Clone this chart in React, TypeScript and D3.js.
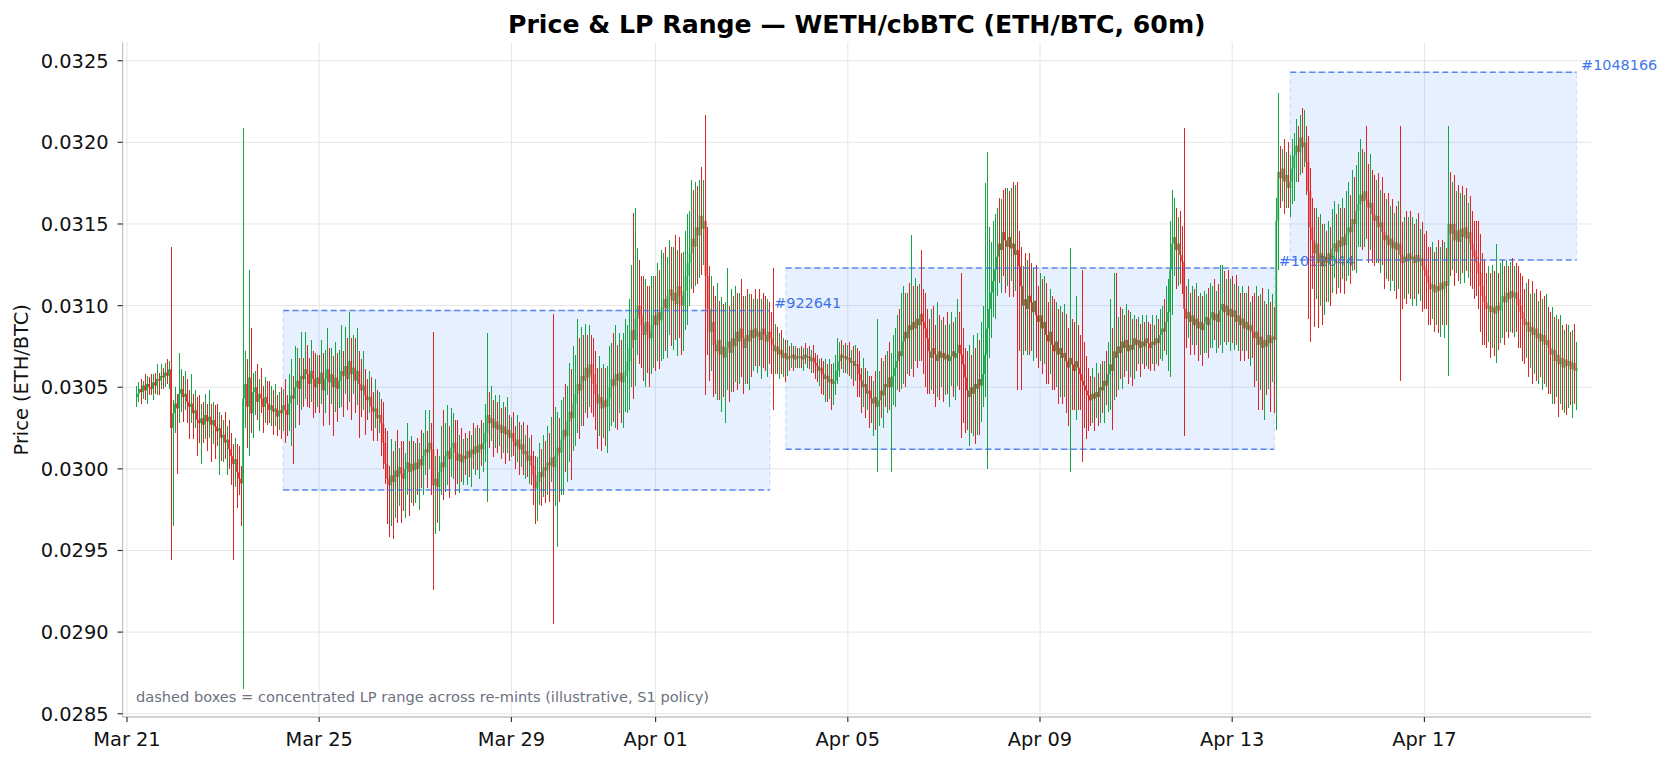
import React, { useMemo } from 'react';
import * as d3 from 'd3';

const chartTitle = 'Price & LP Range — WETH/cbBTC (ETH/BTC, 60m)';
const yAxisLabel = 'Price (ETH/BTC)';
const footNote = 'dashed boxes = concentrated LP range across re-mints (illustrative, S1 policy)';

// hourly candles, prices in units of 1e-5 ETH/BTC, one row per day
const firstCandle = '2025-03-21T05:00:00Z';
const firstOpen = 3044;
const closesByDay = [
  [3046, 3049, 3047, 3051, 3048, 3052, 3050, 3049, 3053, 3051, 3055, 3054, 3057, 3056, 3059, 3057, 3061, 3025, 3034],
  [3040, 3037, 3046, 3049, 3044, 3046, 3041, 3038, 3040, 3034, 3036, 3030, 3028, 3031, 3027, 3033, 3029, 3032, 3027, 3030, 3026, 3023, 3025, 3019],
  [3021, 3016, 3018, 3012, 3008, 3003, 3006, 2998, 2994, 2991, 3043, 3052, 3038, 3056, 3034, 3047, 3050, 3041, 3046, 3043, 3038, 3044, 3040, 3036],
  [3039, 3035, 3037, 3032, 3036, 3034, 3039, 3036, 3033, 3040, 3045, 3043, 3050, 3054, 3049, 3057, 3055, 3061, 3058, 3052, 3060, 3055, 3050, 3056],
  [3052, 3059, 3048, 3055, 3061, 3053, 3058, 3050, 3056, 3049, 3054, 3060, 3057, 3063, 3055, 3066, 3058, 3062, 3054, 3060, 3052, 3048, 3051, 3045],
  [3042, 3044, 3038, 3035, 3037, 3031, 3033, 3028, 3016, 3003, 2994, 2990, 2996, 2992, 2999, 2995, 3001, 2997, 2994, 3000, 3004, 2998, 3003, 2999],
  [3004, 3000, 3006, 3002, 3008, 3012, 3010, 3016, 3012, 2990, 2994, 2989, 2998, 3004, 3001, 3008, 3011, 3006, 3013, 3016, 3010, 3005, 3009, 3004],
  [3008, 3006, 3011, 3007, 3012, 3009, 3014, 3010, 3015, 3012, 3016, 3022, 3033, 3028, 3031, 3025, 3029, 3024, 3027, 3022, 3026, 3021, 3024, 3019],
  [3022, 3017, 3014, 3018, 3012, 3015, 3009, 3011, 3005, 3008, 3002, 2996, 2988, 2992, 2998, 2995, 3001, 2999, 3004, 3002, 3007, 3001, 3008, 3013],
  [3010, 3018, 3024, 3020, 3029, 3035, 3031, 3040, 3046, 3052, 3048, 3057, 3054, 3062, 3056, 3064, 3058, 3052, 3046, 3040, 3044, 3037, 3042, 3038],
  [3043, 3050, 3055, 3051, 3058, 3054, 3059, 3053, 3057, 3060, 3066, 3074, 3085, 3079, 3092, 3100, 3094, 3088, 3082, 3090, 3084, 3080, 3088, 3094],
  [3088, 3096, 3091, 3099, 3104, 3098, 3106, 3110, 3103, 3108, 3101, 3112, 3106, 3100, 3109, 3118, 3126, 3132, 3141, 3136, 3148, 3143, 3155, 3147],
  [3152, 3118, 3098, 3084, 3090, 3076, 3072, 3079, 3070, 3075, 3068, 3074, 3078, 3071, 3080, 3075, 3084, 3078, 3086, 3080, 3074, 3082, 3078, 3085],
  [3080, 3086, 3081, 3084, 3079, 3086, 3082, 3078, 3084, 3080, 3076, 3072, 3075, 3070, 3073, 3068, 3071, 3067, 3069, 3068, 3070, 3067, 3069, 3068],
  [3069, 3067, 3070, 3068, 3069, 3066, 3068, 3065, 3063, 3060, 3062, 3058, 3055, 3057, 3053, 3055, 3052, 3054, 3060, 3066, 3070, 3068, 3069, 3067],
  [3068, 3065, 3066, 3063, 3064, 3058, 3054, 3050, 3052, 3046, 3048, 3043, 3040, 3044, 3038, 3042, 3048, 3045, 3052, 3050, 3056, 3050, 3057, 3062],
  [3066, 3072, 3069, 3078, 3084, 3080, 3088, 3085, 3090, 3086, 3092, 3088, 3095, 3090, 3086, 3080, 3072, 3068, 3074, 3070, 3066, 3072, 3068, 3071],
  [3067, 3070, 3066, 3069, 3072, 3068, 3071, 3076, 3070, 3064, 3056, 3048, 3044, 3050, 3046, 3052, 3049, 3055, 3051, 3058, 3070, 3086, 3098, 3108],
  [3115, 3122, 3130, 3138, 3134, 3145, 3140, 3136, 3142, 3135, 3138, 3131, 3134, 3124, 3112, 3100, 3104, 3098, 3106, 3102, 3096, 3103, 3094, 3090],
  [3094, 3086, 3090, 3082, 3078, 3084, 3076, 3072, 3078, 3070, 3074, 3068, 3071, 3066, 3062, 3068, 3064, 3060, 3066, 3062, 3058, 3054, 3051, 3048],
  [3045, 3042, 3046, 3043, 3047, 3044, 3050, 3048, 3054, 3051, 3058, 3064, 3060, 3072, 3068, 3075, 3071, 3078, 3074, 3079, 3072, 3076, 3073, 3080],
  [3076, 3079, 3074, 3078, 3075, 3080, 3077, 3074, 3078, 3076, 3080, 3077, 3082, 3086, 3084, 3090, 3096, 3122, 3138, 3142, 3134, 3138, 3131, 3127],
  [3098, 3092, 3096, 3090, 3094, 3088, 3092, 3086, 3090, 3085, 3089, 3093, 3088, 3092, 3096, 3091, 3095, 3090, 3097, 3101, 3096, 3100, 3094, 3098],
  [3093, 3097, 3090, 3094, 3088, 3092, 3086, 3090, 3085, 3088, 3084, 3080, 3084, 3076, 3081, 3074, 3079, 3075, 3082, 3077, 3081, 3079, 3152, 3182],
  [3178, 3184, 3176, 3180, 3172, 3176, 3184, 3192, 3198, 3194, 3203, 3197, 3200, 3188, 3170, 3148, 3140, 3132, 3138, 3126, 3132, 3124, 3130, 3126],
  [3132, 3128, 3135, 3138, 3133, 3140, 3136, 3142, 3137, 3144, 3148, 3145, 3153, 3150, 3158, 3162, 3168, 3164, 3170, 3165, 3160, 3163, 3156, 3152],
  [3155, 3148, 3151, 3145, 3140, 3143, 3137, 3141, 3135, 3139, 3134, 3138, 3131, 3126, 3130, 3127, 3132, 3128, 3130, 3126, 3131, 3127, 3129, 3124],
  [3122, 3118, 3114, 3110, 3113, 3108, 3112, 3109, 3114, 3110, 3115, 3112, 3150, 3144, 3150, 3140, 3146, 3139, 3147, 3142, 3148, 3141, 3145, 3138],
  [3134, 3130, 3126, 3120, 3112, 3106, 3102, 3098, 3100, 3096, 3099, 3095, 3100, 3097, 3102, 3106, 3102, 3108, 3104, 3109, 3105, 3108, 3104, 3100],
  [3096, 3092, 3088, 3090, 3084, 3087, 3082, 3086, 3080, 3083, 3078, 3082, 3076, 3079, 3074, 3070, 3073, 3066, 3070, 3064, 3068, 3062, 3067, 3063],
  [3066, 3061, 3065, 3060, 3062],
];

// wick length above the body top / below the body bottom (same units)
const wickUpByDay = [
  [5, 4, 6, 3, 7, 5, 4, 8, 5, 6, 9, 4, 7, 5, 6, 8, 5, 75, 8],
  [10, 6, 25, 12, 8, 14, 9, 7, 18, 6, 12, 8, 15, 9, 10, 13, 7, 16, 8, 11, 9, 14, 10, 8],
  [9, 14, 8, 12, 10, 7, 13, 9, 16, 8, 166, 20, 15, 66, 30, 12, 10, 14, 9, 16, 8, 12, 10, 14],
  [12, 9, 15, 8, 11, 14, 10, 16, 9, 18, 22, 12, 25, 20, 14, 27, 11, 23, 15, 10, 19, 12, 16, 14],
  [14, 20, 12, 18, 25, 13, 16, 11, 22, 15, 19, 28, 12, 24, 17, 30, 14, 20, 18, 26, 12, 15, 21, 10],
  [10, 16, 12, 9, 18, 11, 14, 10, 13, 9, 20, 8, 22, 15, 18, 25, 12, 16, 20, 10, 24, 13, 17, 14],
  [12, 15, 10, 18, 14, 24, 11, 20, 12, 72, 14, 18, 10, 22, 32, 20, 28, 15, 24, 18, 14, 20, 12, 16],
  [10, 14, 8, 12, 9, 16, 11, 13, 10, 15, 12, 18, 50, 14, 20, 11, 16, 12, 18, 10, 15, 12, 20, 9],
  [10, 13, 9, 15, 11, 12, 14, 10, 16, 11, 13, 9, 12, 15, 18, 14, 20, 16, 22, 18, 25, 88, 30, 22],
  [18, 24, 20, 28, 22, 30, 26, 35, 24, 40, 28, 30, 25, 27, 20, 24, 18, 22, 20, 16, 25, 18, 22, 20],
  [20, 25, 22, 28, 30, 18, 24, 20, 26, 32, 22, 30, 40, 72, 68, 35, 28, 24, 30, 26, 22, 28, 30, 24],
  [24, 30, 26, 35, 28, 32, 24, 30, 26, 28, 35, 22, 30, 26, 24, 28, 30, 26, 36, 30, 28, 25, 22, 30],
  [25, 65, 30, 26, 28, 22, 30, 35, 24, 30, 26, 28, 45, 22, 30, 26, 28, 24, 22, 30, 26, 24, 28, 22],
  [22, 18, 24, 20, 26, 18, 22, 24, 20, 18, 16, 47, 14, 12, 10, 12, 9, 8, 10, 6, 7, 5, 6, 5],
  [5, 6, 4, 7, 5, 6, 5, 8, 6, 7, 5, 6, 8, 10, 7, 12, 9, 11, 10, 14, 8, 9, 7, 8],
  [8, 10, 7, 9, 12, 10, 14, 8, 16, 10, 12, 9, 14, 10, 16, 50, 12, 20, 14, 18, 16, 22, 14, 20],
  [20, 22, 26, 30, 28, 24, 20, 26, 53, 22, 25, 20, 18, 39, 20, 22, 18, 20, 24, 26, 18, 30, 22, 20],
  [22, 18, 26, 20, 24, 18, 22, 28, 20, 50, 22, 18, 24, 26, 20, 30, 22, 28, 24, 32, 30, 89, 96, 40],
  [24, 30, 26, 22, 28, 20, 26, 32, 30, 28, 34, 38, 40, 42, 22, 24, 20, 28, 22, 26, 24, 20, 22, 18],
  [26, 22, 28, 24, 20, 26, 22, 28, 24, 20, 26, 22, 30, 24, 20, 67, 24, 26, 40, 22, 20, 64, 24, 18],
  [14, 12, 16, 10, 18, 12, 14, 16, 12, 18, 20, 40, 22, 48, 48, 18, 24, 20, 16, 22, 18, 20, 16, 14],
  [12, 14, 10, 16, 12, 14, 10, 12, 16, 10, 14, 12, 16, 14, 18, 22, 20, 30, 33, 24, 18, 16, 20, 18],
  [82, 14, 20, 12, 18, 16, 22, 14, 18, 16, 20, 14, 18, 22, 16, 20, 14, 18, 28, 24, 20, 16, 22, 18],
  [20, 16, 22, 18, 14, 20, 16, 18, 22, 14, 18, 24, 28, 22, 26, 30, 24, 22, 28, 20, 26, 18, 14, 48],
  [16, 12, 18, 14, 20, 16, 18, 14, 16, 12, 14, 18, 20, 10, 16, 14, 18, 20, 22, 16, 24, 18, 20, 16],
  [20, 16, 24, 26, 18, 22, 20, 24, 18, 26, 28, 20, 30, 26, 28, 32, 34, 28, 24, 40, 22, 30, 20, 24],
  [22, 26, 20, 28, 24, 22, 26, 20, 24, 18, 22, 26, 72, 20, 24, 28, 22, 26, 24, 20, 22, 26, 18, 22],
  [20, 24, 18, 22, 26, 20, 24, 28, 22, 26, 24, 20, 60, 32, 26, 30, 24, 28, 22, 26, 20, 24, 18, 22],
  [20, 18, 22, 26, 24, 20, 22, 18, 24, 20, 26, 22, 38, 20, 24, 22, 18, 20, 16, 18, 20, 16, 18, 20],
  [20, 22, 18, 24, 26, 20, 28, 22, 24, 20, 26, 22, 24, 28, 20, 22, 26, 20, 24, 22, 26, 20, 18, 22],
  [22, 18, 20, 24, 16],
];

const wickDownByDay = [
  [6, 5, 7, 4, 6, 8, 5, 4, 7, 5, 6, 9, 5, 7, 6, 5, 8, 81, 60],
  [12, 40, 9, 11, 15, 8, 13, 20, 10, 16, 9, 22, 12, 25, 11, 9, 18, 10, 23, 12, 20, 9, 27, 14],
  [15, 10, 20, 12, 18, 59, 14, 22, 10, 26, 126, 18, 25, 30, 12, 15, 14, 11, 18, 9, 16, 10, 13, 8],
  [10, 14, 9, 12, 8, 16, 11, 20, 13, 10, 26, 40, 18, 11, 22, 13, 17, 12, 20, 15, 11, 24, 16, 12],
  [18, 12, 22, 14, 10, 26, 13, 30, 15, 20, 12, 16, 25, 11, 19, 14, 28, 12, 20, 15, 33, 16, 12, 24],
  [12, 8, 15, 18, 10, 14, 9, 20, 16, 12, 28, 32, 25, 35, 22, 28, 18, 30, 20, 24, 16, 27, 19, 22],
  [20, 16, 25, 14, 18, 12, 22, 10, 28, 64, 30, 22, 27, 14, 20, 15, 18, 24, 11, 19, 26, 14, 20, 12],
  [14, 10, 16, 12, 18, 9, 13, 11, 16, 10, 14, 12, 42, 15, 11, 18, 12, 14, 10, 16, 12, 18, 11, 14],
  [12, 9, 14, 10, 16, 11, 13, 15, 10, 14, 12, 18, 22, 20, 14, 18, 12, 20, 15, 22, 10, 96, 24, 56],
  [30, 26, 34, 22, 28, 25, 38, 20, 26, 24, 30, 22, 28, 20, 25, 18, 24, 20, 22, 28, 20, 26, 18, 24],
  [28, 20, 24, 22, 26, 30, 20, 25, 28, 22, 26, 30, 24, 36, 28, 22, 30, 26, 28, 32, 25, 30, 22, 26],
  [28, 22, 30, 25, 32, 26, 30, 24, 28, 30, 22, 32, 26, 30, 28, 24, 30, 26, 22, 28, 24, 30, 26, 28],
  [22, 73, 28, 30, 24, 32, 26, 30, 28, 35, 24, 40, 26, 30, 24, 28, 22, 30, 26, 24, 28, 22, 26, 30],
  [24, 20, 18, 22, 16, 24, 20, 18, 22, 16, 18, 36, 14, 12, 15, 10, 12, 14, 10, 8, 6, 7, 5, 6],
  [6, 5, 7, 4, 6, 5, 7, 6, 8, 7, 9, 12, 10, 14, 12, 10, 16, 13, 9, 8, 10, 7, 9, 8],
  [9, 8, 10, 12, 9, 14, 10, 16, 12, 15, 10, 18, 12, 20, 14, 40, 16, 14, 20, 12, 16, 14, 52, 18],
  [24, 18, 22, 20, 26, 30, 22, 28, 24, 30, 20, 26, 22, 24, 28, 30, 26, 22, 20, 24, 28, 22, 26, 18],
  [26, 22, 20, 28, 18, 24, 26, 20, 22, 45, 28, 26, 20, 30, 24, 26, 34, 28, 30, 22, 20, 26, 86, 30],
  [28, 22, 30, 24, 20, 26, 22, 28, 24, 30, 20, 26, 22, 76, 40, 52, 30, 26, 28, 32, 24, 30, 26, 28],
  [24, 28, 22, 30, 26, 20, 28, 24, 22, 30, 26, 28, 24, 32, 36, 64, 28, 24, 30, 26, 22, 50, 26, 30],
  [22, 16, 14, 20, 12, 18, 16, 14, 20, 12, 16, 22, 36, 18, 24, 20, 16, 22, 18, 14, 20, 16, 22, 18],
  [16, 12, 18, 10, 14, 12, 16, 14, 10, 16, 12, 14, 10, 16, 12, 14, 30, 40, 28, 20, 24, 22, 18, 20],
  [78, 18, 12, 20, 14, 18, 12, 20, 16, 22, 14, 18, 20, 14, 18, 12, 20, 16, 14, 26, 18, 20, 16, 22],
  [16, 20, 14, 18, 22, 16, 20, 14, 18, 22, 16, 30, 26, 40, 28, 38, 44, 30, 26, 42, 24, 45, 55, 30],
  [18, 14, 20, 16, 12, 18, 14, 20, 16, 18, 14, 16, 12, 20, 78, 70, 30, 45, 28, 40, 26, 36, 30, 24],
  [24, 28, 20, 18, 26, 22, 28, 20, 30, 22, 26, 32, 24, 28, 30, 22, 26, 30, 28, 24, 34, 26, 30, 28],
  [26, 22, 28, 20, 30, 24, 22, 28, 20, 26, 30, 24, 77, 28, 22, 26, 20, 24, 28, 22, 26, 20, 24, 28],
  [24, 20, 26, 22, 18, 24, 20, 26, 28, 22, 30, 24, 55, 26, 22, 28, 20, 24, 26, 22, 28, 20, 24, 26],
  [24, 26, 20, 22, 28, 30, 26, 24, 20, 28, 22, 26, 30, 24, 20, 22, 26, 18, 24, 20, 22, 24, 20, 26],
  [22, 26, 24, 20, 28, 22, 30, 24, 26, 28, 22, 30, 24, 26, 28, 24, 30, 26, 22, 32, 24, 26, 28, 30],
  [26, 22, 30, 20, 24],
];

// LP ranges (re-mints)
const lpIds = ['#922641', '#1012044', '#1048166'];
const lpStarts = ['2025-03-24T06:00:00Z', '2025-04-03T17:00:00Z', '2025-04-14T05:00:00Z'];
const lpEnds = ['2025-04-03T09:00:00Z', '2025-04-13T21:00:00Z', '2025-04-20T04:00:00Z'];
const lpLower = [0.02987, 0.03012, 0.03128];
const lpUpper = [0.03097, 0.03123, 0.03243];

const yTicks = [0.0285, 0.029, 0.0295, 0.03, 0.0305, 0.031, 0.0315, 0.032, 0.0325];
const xTickDates = ['2025-03-21', '2025-03-25', '2025-03-29', '2025-04-01', '2025-04-05', '2025-04-09', '2025-04-13', '2025-04-17'];

const UNIT = 1e-5;
const HOUR = 3600 * 1000;
const W = 1671;
const H = 763;
const plot = { left: 122.6, right: 1591, top: 42.6, bottom: 717 };
const UP = '#17a544';
const DOWN = '#e02424';
const FONT = "'DejaVu Sans', sans-serif";

type Candle = { t: Date; o: number; h: number; l: number; c: number };

function buildCandles(): Candle[] {
  const out: Candle[] = [];
  const t0 = new Date(firstCandle).getTime();
  let prev = firstOpen;
  let k = 0;
  closesByDay.forEach((row, d) => {
    row.forEach((c, j) => {
      const o = prev;
      const hi = Math.max(o, c) + wickUpByDay[d][j];
      const lo = Math.min(o, c) - wickDownByDay[d][j];
      out.push({ t: new Date(t0 + k * HOUR), o: o * UNIT, c: c * UNIT, h: hi * UNIT, l: lo * UNIT });
      prev = c;
      k++;
    });
  });
  return out;
}

const App: React.FC = () => {
  const candles = useMemo(buildCandles, []);

  const first = candles[0].t.getTime();
  const last = candles[candles.length - 1].t.getTime();
  const pad = (last - first) * 0.01; // 1% x margin

  const x = d3.scaleUtc()
    .domain([new Date(first - pad), new Date(last + pad)])
    .range([plot.left, plot.right]);
  const y = d3.scaleLinear()
    .domain([0.02848, 0.032611])
    .range([plot.bottom, plot.top]);

  const fmt = d3.utcFormat('%b %d');
  const bodyW = 1.8;

  return (
    <svg width={W} height={H} style={{ position: 'absolute', left: 0, top: 0, background: '#fff' }} fontFamily={FONT}>
      <rect x={0} y={0} width={W} height={H} fill="#fff" />

      {/* grid */}
      <g stroke="#e6e6e6" strokeWidth={1}>
        {yTicks.map(v => (
          <line key={'gy' + v} x1={plot.left} x2={plot.right} y1={y(v)} y2={y(v)} />
        ))}
        {xTickDates.map(d => (
          <line key={'gx' + d} x1={x(new Date(d))} x2={x(new Date(d))} y1={plot.top} y2={plot.bottom} />
        ))}
      </g>

      {/* LP range fills */}
      {lpIds.map((id, i) => (
        <rect key={'f' + id}
          x={x(new Date(lpStarts[i]))} y={y(lpUpper[i])}
          width={x(new Date(lpEnds[i])) - x(new Date(lpStarts[i]))}
          height={y(lpLower[i]) - y(lpUpper[i])}
          fill="#3b82f6" fillOpacity={0.12}
          stroke="#3b82f6" strokeOpacity={0.18} strokeWidth={1.3} strokeDasharray="5,3" />
      ))}

      {/* range labels */}
      {lpIds.map((id, i) => (
        <text key={'l' + id} x={x(new Date(lpEnds[i])) + 4.5} y={y(lpUpper[i]) - 2}
          fontSize={14.4} fill="#2563eb" fillOpacity={0.9}>{id}</text>
      ))}

      {/* candles */}
      <g>
        {candles.map((d, i) => {
          const col = d.c >= d.o ? UP : DOWN;
          const cx = x(d.t);
          const top = y(Math.max(d.o, d.c));
          const bot = y(Math.min(d.o, d.c));
          return (
            <g key={i}>
              <line x1={cx} x2={cx} y1={y(d.h)} y2={y(d.l)} stroke={col} strokeWidth={1} shapeRendering="crispEdges" />
              <rect x={cx - bodyW / 2} y={top} width={bodyW} height={Math.max(1, bot - top)} fill={col} />
            </g>
          );
        })}
      </g>

      {/* LP range bounds */}
      <g stroke="#3b6fe6" strokeOpacity={0.8} strokeWidth={1.5} strokeDasharray="6,3.5">
        {lpIds.map((id, i) => {
          const x0 = x(new Date(lpStarts[i]));
          const x1 = x(new Date(lpEnds[i]));
          return (
            <g key={'b' + id}>
              <line x1={x0} x2={x1} y1={y(lpUpper[i])} y2={y(lpUpper[i])} />
              <line x1={x0} x2={x1} y1={y(lpLower[i])} y2={y(lpLower[i])} />
            </g>
          );
        })}
      </g>

      {/* spines */}
      <line x1={plot.left} x2={plot.left} y1={plot.top} y2={plot.bottom} stroke="#c4c4c4" strokeWidth={1.3} />
      <line x1={plot.left} x2={plot.right} y1={plot.bottom} y2={plot.bottom} stroke="#c4c4c4" strokeWidth={1.3} />

      {/* y axis */}
      {yTicks.map(v => (
        <g key={'ty' + v}>
          <line x1={plot.left - 5} x2={plot.left} y1={y(v)} y2={y(v)} stroke="#333" strokeWidth={1.2} />
          <text x={plot.left - 14} y={y(v)} dy="0.36em" textAnchor="end" fontSize={19.4} fill="#111">
            {d3.format('.4f')(v)}
          </text>
        </g>
      ))}

      {/* x axis */}
      {xTickDates.map(d => {
        const px = x(new Date(d));
        return (
          <g key={'tx' + d}>
            <line x1={px} x2={px} y1={plot.bottom} y2={plot.bottom + 5} stroke="#333" strokeWidth={1.2} />
            <text x={px} y={745.5} textAnchor="middle" fontSize={19.4} fill="#111">{fmt(new Date(d))}</text>
          </g>
        );
      })}

      <text transform={`translate(28,${(plot.top + plot.bottom) / 2}) rotate(-90)`} textAnchor="middle"
        fontSize={19.4} fill="#111">{yAxisLabel}</text>

      <text x={(plot.left + plot.right) / 2} y={32.5} textAnchor="middle" fontSize={25.2} fontWeight="bold" fill="#000">
        {chartTitle}
      </text>

      <text x={136} y={702} fontSize={14.6} fill="#6b7280">{footNote}</text>
    </svg>
  );
};

export default App;
